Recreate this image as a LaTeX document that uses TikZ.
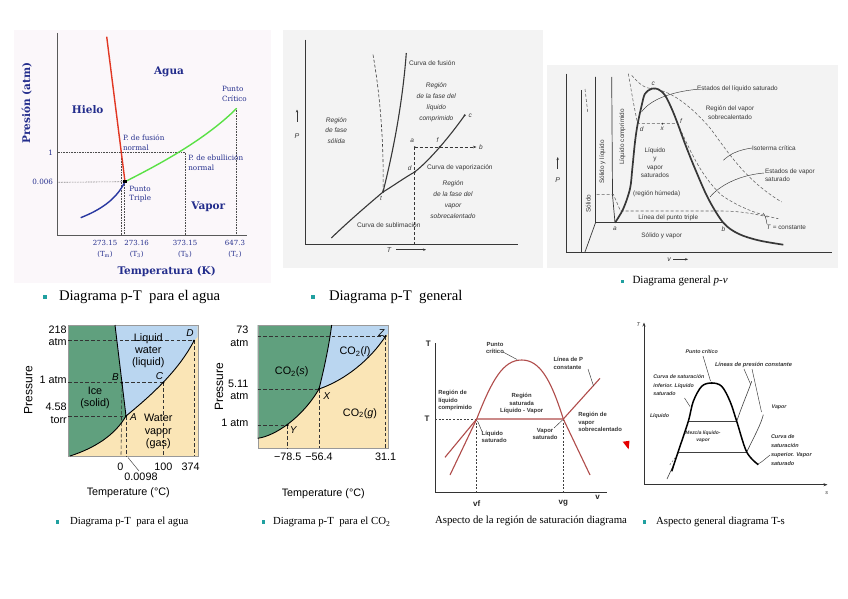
\documentclass[tikz,border=0pt]{standalone}
\usepackage{fontspec}
\setmainfont{Liberation Serif}
\newfontfamily\lsans{Liberation Sans}
\newfontfamily\dvs{DejaVu Serif}
\usetikzlibrary{arrows.meta}
\definecolor{navy}{RGB}{35,45,140}
\definecolor{bgA}{RGB}{251,247,250}
\definecolor{bgB}{RGB}{243,243,243}
\definecolor{fusred}{RGB}{225,55,35}
\definecolor{vapgreen}{RGB}{90,225,70}
\definecolor{subblue}{RGB}{40,55,160}
\definecolor{icegreen}{RGB}{96,160,126}
\definecolor{liqblue}{RGB}{186,214,240}
\definecolor{gastan}{RGB}{250,229,182}
\definecolor{domered}{RGB}{176,76,74}
\definecolor{tealb}{RGB}{32,160,160}
\definecolor{ink}{RGB}{55,55,55}
\tikzset{
  every node/.style={inner sep=0pt, outer sep=0pt},
  axA/.style={draw=gray!70!black, line width=0.9},
  dotA/.style={densely dotted, line width=0.6, black!70},
  nv/.style={font=\dvs\fontsize{7.2}{9.8}\selectfont, text=navy, align=left},
  nvc/.style={font=\dvs\fontsize{7}{11}\selectfont, text=navy, align=center},
  nvb/.style={font=\dvs\bfseries\fontsize{10.5}{12}\selectfont, text=navy},
  axB/.style={draw=ink, line width=0.7},
  crvB/.style={draw=ink, line width=1.1},
  dshB/.style={draw=ink, dashed, line width=0.6, dash pattern=on 3pt off 2pt},
  lbB/.style={font=\lsans\fontsize{6.6}{10.6}\selectfont, text=ink, align=center},
  lbBi/.style={font=\lsans\itshape\fontsize{6.6}{10.8}\selectfont, text=ink, align=center},
  lbC/.style={font=\lsans\fontsize{6.4}{8.3}\selectfont, text=ink, align=center},
  ltr/.style={font=\lsans\itshape\fontsize{6.5}{7}\selectfont, text=ink},
  dotpt/.style={circle, fill=ink, minimum size=2.4pt},
  lead/.style={draw=ink, line width=0.45},
  dshC/.style={draw=ink!80, dashed, line width=0.55, dash pattern=on 3pt off 2pt},
  pl/.style={font=\lsans\fontsize{10.8}{12.2}\selectfont, text=black, align=center},
  plr/.style={font=\lsans\fontsize{10.8}{12.2}\selectfont, text=black, align=right, anchor=east},
  pdsh/.style={draw=black!80, dashed, line width=0.6, dash pattern=on 3.5pt off 2.2pt},
  pcrv/.style={draw=black, line width=0.9},
  pdot/.style={circle, fill=black, minimum size=2.4pt},
  plet/.style={font=\lsans\itshape\fontsize{10}{11}\selectfont, text=black},
  sat/.style={font=\lsans\bfseries\fontsize{5.9}{7.4}\selectfont, text=ink, align=left},
  domeS/.style={draw=domered, line width=1.1},
  ts/.style={font=\lsans\bfseries\itshape\fontsize{5.3}{8.3}\selectfont, text=ink, align=left},
  capT/.style={font=\fontsize{14.7}{16}\selectfont, anchor=west},
  capS/.style={font=\fontsize{10.8}{12}\selectfont, anchor=west},
  bul/.style={fill=tealb, minimum size=4.5pt},
  buls/.style={fill=tealb, minimum size=3.6pt}
}
\begin{document}
\begin{tikzpicture}[x=1pt,y=-1pt]
\useasboundingbox (0,0) rectangle (848,599);
\fill[white] (0,0) rectangle (848,599);

%% ===== Panel 1: water p-T (colour lines)
\fill[bgA] (14,30) rectangle (271,283);
\coordinate (p1o) at (57.7,235.7);
\coordinate (p1yt) at (57.7,33);
\coordinate (p1xr) at (246.7,235.7);
\coordinate (tp1) at (125,181.7);
\coordinate (cp1) at (236.7,108.3);
\coordinate (ft1) at (106.7,36.7);
\coordinate (sb1) at (80.7,217.7);
\coordinate (nf1) at (121.3,152.7);
\coordinate (nb1) at (185,152.7);
\coordinate (h1a) at (57.7,152.7);
\coordinate (h1b) at (57.7,182.3);
\coordinate (v1a) at (121.3,235.7);
\coordinate (v1b0) at (124.4,182);
\coordinate (v1b) at (124.4,235.7);
\coordinate (v1c) at (185,235.7);
\coordinate (v1d) at (236.7,235.7);
\draw[dotA] (h1a) -- (nb1);
\draw[dotA] (h1b) -- (tp1);
\draw[dotA] (nf1) -- (v1a);
\draw[dotA] (v1b0) -- (v1b);
\draw[dotA] (nb1) -- (v1c);
\draw[dotA] (cp1) -- (v1d);
\draw[axA] (p1yt) -- (p1o) -- (p1xr);
\draw[fusred, line width=1.4] (ft1) -- (tp1);
\draw[vapgreen, line width=1.4] (tp1) .. controls (158,165) and (205,140) .. (cp1);
\draw[subblue, line width=1.4] (sb1) .. controls (100,210) and (116,200) .. (tp1);
\node[fill=black, minimum size=3.2pt] (tpd1) at (tp1) {};
\node[nvb] (agua) at (169,71.7) {Agua};
\node[nvb] (hielo) at (87.7,109.3) {Hielo};
\node[nvb] (vapor1) at (208.3,206.7) {Vapor};
\node[nv, anchor=west] (pc1) at (222,93.7) {Punto\\Crítico};
\node[nv, anchor=west] (pf1) at (123,142.7) {P. de fusión\\normal};
\node[nv, anchor=west] (pe1) at (188.3,162.7) {P. de ebullición\\normal};
\node[nv, anchor=west] (pt1) at (129.3,194.2) {Punto\\Triple};
\node[nv, anchor=east] (one1) at (53,152.7) {1};
\node[nv, anchor=east] (z006) at (53,182.3) {0.006};
\node[nvc] (tk1) at (105,248.8) {273.15\\(T\textsubscript{m})};
\node[nvc] (tk2) at (136.7,248.8) {273.16\\(T\textsubscript{3})};
\node[nvc] (tk3) at (185,248.8) {373.15\\(T\textsubscript{b})};
\node[nvc] (tk4) at (235,248.8) {647.3\\(T\textsubscript{c})};
\node[nvb] (tempK) at (166.7,271.7) {Temperatura (K)};
\node[nvb, rotate=90] (presA) at (26.7,103.3) {Presión (atm)};

%% ===== Panel 2: general p-T
\fill[bgB] (283,30) rectangle (542.7,268.3);
\coordinate (p2o) at (305.7,244);
\coordinate (p2yt) at (305.7,39.7);
\coordinate (p2xr) at (518,244);
\draw[axB] (p2yt) -- (p2o) -- (p2xr);
\coordinate (t2) at (383,192);
\coordinate (d2) at (414.7,172);
\coordinate (c2) at (464.7,115.3);
\coordinate (f2) at (439.9,147);
\coordinate (a2) at (414.7,147);
\coordinate (b2) at (476.5,147);
\coordinate (s2) at (331.3,238);
\coordinate (fu2) at (406.3,53);
\coordinate (ds2) at (373,54.7);
\coordinate (ax2) at (414.7,244);
\draw[dshB] (ds2) .. controls (381,100) and (384,150) .. (t2);
\draw[crvB] (t2) .. controls (391,160) and (402,110) .. (fu2);
\draw[crvB] (s2) .. controls (350,220) and (370,203) .. (t2) .. controls (393,186) and (404,178) .. (d2) .. controls (430,160) and (450,136) .. (c2);
\draw[dshB] (a2) -- (ax2);
\draw[dshB, -{Stealth[length=3.5pt,width=2.6pt]}] (a2) -- (b2);
\node[dotpt] (t2d) at (t2) {};
\node[dotpt] (d2d) at (d2) {};
\node[dotpt] (c2d) at (c2) {};
\node[dotpt] (f2d) at (f2) {};
\node[dotpt, minimum size=1.8pt] (a2d) at (a2) {};
\node[ltr] (la2) at (412.3,140.7) {a};
\node[ltr] (lf2) at (437.5,139.7) {f};
\node[ltr, anchor=west] (lb2) at (479,147) {b};
\node[ltr] (lc2) at (470.3,116) {c};
\node[ltr] (ld2) at (409.7,168) {d};
\node[ltr] (lt2) at (381,198.7) {t};
\node[lbB, anchor=west] (cf2) at (409,63) {Curva de fusión};
\node[lbBi] (rl2) at (436.3,102.2) {Región\\de la fase del\\líquido\\comprimido};
\node[lbBi] (rs2) at (336.3,130.5) {Región\\de fase\\sólida};
\node[lbB, anchor=west] (cv2) at (427,168) {Curva de vaporización};
\node[lbBi] (rv2) at (453,199.7) {Región\\de la fase del\\vapor\\sobrecalentado};
\node[lbB, anchor=west] (cs2) at (357,225.3) {Curva de sublimación};
\node[font=\lsans\itshape\fontsize{7}{8}\selectfont, text=ink] (P2) at (297,136.3) {P};
\coordinate (P2a) at (297,122);
\coordinate (P2b) at (297,109.5);
\draw[axB, -{Stealth[length=3pt,width=2.4pt]}] (P2a) -- (P2b);
\node[font=\lsans\itshape\fontsize{7}{8}\selectfont, text=ink] (T2) at (389,249.7) {T};
\coordinate (T2a) at (396,249.7);
\coordinate (T2b) at (426,249.7);
\draw[axB, -{Stealth[length=3pt,width=2.4pt]}] (T2a) -- (T2b);

%% ===== Panel 3: general p-v
\fill[bgB] (546.7,65) rectangle (838,267.5);
\coordinate (p3o) at (566.7,252);
\coordinate (p3yt) at (566.7,73.7);
\coordinate (p3xr) at (831.7,252);
\draw[axB] (p3yt) -- (p3o) -- (p3xr);
\coordinate (l3a) at (581.7,90.3);
\coordinate (l3b) at (581.7,252);
\coordinate (l3c) at (585,252);
\coordinate (l3d) at (595.5,222.7);
\coordinate (l3e) at (595.5,77);
\coordinate (l3f) at (611.7,77);
\coordinate (a3) at (615,222.7);
\coordinate (b3) at (723.3,222.7);
\coordinate (c3) at (651.7,88.7);
\coordinate (d3) at (637.7,123.7);
\coordinate (f3) at (677.7,123.7);
\coordinate (x3) at (662.3,123.7);
\draw[axB] (l3a) -- (l3b);
\draw[axB] (l3c) -- (l3d) -- (l3e);
\draw[axB] (l3f) -- (612.5,195) -- (a3);
\draw[axB] (l3d) -- (b3);
\draw[dshC] (585,89) -- (587.7,112);
\draw[dshC] (596.7,194.3) -- (613.3,194.3) -- (620.5,211) -- (721,211) .. controls (740,211) and (755,214) .. (768,217);
\draw[dshC] (628.3,73.7) .. controls (632,95) and (635,112) .. (d3) -- (f3) .. controls (690,150) and (700,175) .. (721.7,195.3) .. controls (740,208) and (760,215) .. (778.3,218.7);
\draw[dshC] (631.7,75.3) .. controls (638,83) and (645,88.7) .. (c3) .. controls (670,90) and (690,105) .. (710,128) .. controls (728,152) and (745,180) .. (781.7,202);
\draw[line width=1.7, ink] plot[smooth, tension=0.55] coordinates {(615,222.7) (623.3,208.7) (630,188.7) (632.3,168.7) (635,142) (637.7,123.7) (641.7,105.3) (645,93.7) (651.7,88.7) (658.3,89.3) (665,95.3) (671.7,108.7) (677.7,123.7) (685,143.7) (695,168.7) (708.3,198.7) (723.3,222.7) (738.3,233.7) (758.3,240.3) (783.3,244.7)};
\node[dotpt, minimum size=2pt] (x3d) at (x3) {};
\node[dotpt, minimum size=2pt] (c3d) at (c3) {};
\node[ltr] (lc3) at (653.3,83.3) {c};
\node[ltr] (ld3) at (641.7,129) {d};
\node[ltr] (lx3) at (662.3,129) {x};
\node[ltr] (lf3) at (681,121.5) {f};
\node[ltr] (la3) at (615,228.7) {a};
\node[ltr] (lb3) at (723.3,228.7) {b};
\node[lbC, anchor=west] (els3) at (697,89.3) {Estados del líquido saturado};
\draw[lead] (els3.west) .. controls (670,92) and (650,100) .. (641.5,112);
\node[lbC] (rvs3) at (730,112.8) {Región del vapor\\sobrecalentado};
\node[lbC, anchor=west] (ic3) at (752,148) {Isoterma crítica};
\draw[lead] (ic3.west) .. controls (738,150) and (730,154) .. (723.3,160.3);
\node[lbC, anchor=west, align=left] (evs3) at (765,175.3) {Estados de vapor\\saturado};
\draw[lead] (764,173) .. controls (740,175) and (720,185) .. (710,197);
\node[lbC, anchor=west] (tc3) at (766.7,227.7) {\textit{T} = constante};
\draw[lead] (767,224) .. controls (766,218) and (765,215) .. (763,213);
\node[lbC] (lvs3) at (655,162.8) {Líquido\\y\\vapor\\saturados};
\node[lbC] (rh3) at (656.7,194.3) {(región húmeda)};
\node[lbC] (lpt3) at (668.3,218) {Línea del punto triple};
\node[lbC] (syv3) at (661.7,236) {Sólido y vapor};
\node[lbC, rotate=90] (sol3) at (588.3,203.7) {Sólido};
\node[lbC, rotate=90] (syl3) at (602.3,162) {Sólido y líquido};
\node[lbC, rotate=90] (lqc3) at (622.3,137) {Líquido comprimido};
\node[font=\lsans\itshape\fontsize{7}{8}\selectfont, text=ink] (P3) at (557.7,180.3) {P};
\coordinate (P3a) at (557.7,169);
\coordinate (P3b) at (557.7,157);
\draw[axB, -{Stealth[length=3pt,width=2.4pt]}] (P3a) -- (P3b);
\node[font=\lsans\itshape\fontsize{7}{8}\selectfont, text=ink] (v3) at (669,259.3) {v};
\coordinate (v3a) at (673,259.3);
\coordinate (v3b) at (688,259.3);
\draw[axB, -{Stealth[length=3pt,width=2.4pt]}] (v3a) -- (v3b);

%% ===== Top captions
\node[bul] (bu1) at (45,297) {};
\node[capT] (cap1) at (59,297) {Diagrama p-T\ \ para el agua};
\node[bul] (bu2) at (313,297) {};
\node[capT] (cap2) at (329,297) {Diagrama p-T\ \ general};
\node[buls] (bu3) at (622.3,281.3) {};
\node[font=\fontsize{11}{12}\selectfont, anchor=west] (cap3) at (632.5,281.3) {Diagrama general \textit{p-v}};

%% ===== Panel 4: water coloured
\coordinate (A4) at (126,416);
\coordinate (B4) at (122,382.7);
\coordinate (C4) at (163.3,382.7);
\coordinate (D4) at (194,340.7);
\coordinate (F4) at (115,325);
\coordinate (S4) at (70,456);
\fill[gastan] (68.3,325) rectangle (197.7,456);
\fill[icegreen] (68.3,325) -- (F4) -- (A4) .. controls (115,435) and (95,448) .. (S4) -- (68.3,456) -- cycle;
\fill[liqblue] (F4) -- (197.7,325) -- (197.7,337) -- (D4) .. controls (178,372) and (148,398) .. (A4) -- cycle;
\draw[black!40, line width=0.4] (68.3,325) rectangle (197.7,456);
\draw[pdsh] (68.3,340.7) -- (D4);
\draw[pdsh] (68.3,382.7) -- (C4);
\draw[pdsh] (68.3,416) -- (A4);
\draw[pdsh] (B4) -- (121,456);
\draw[pdsh] (A4) -- (126,456);
\draw[pdsh] (C4) -- (163.3,456);
\draw[pdsh] (D4) -- (194,456);
\draw[pcrv] (F4) -- (A4);
\draw[pcrv] (S4) .. controls (95,448) and (115,435) .. (A4) .. controls (148,398) and (178,372) .. (D4);
\node[pdot] (A4d) at (A4) {};
\node[pdot] (B4d) at (B4) {};
\node[pdot] (C4d) at (C4) {};
\node[pdot] (D4d) at (D4) {};
\node[plet] (lA4) at (133.5,417.5) {A};
\node[plet] (lB4) at (115.5,377.3) {B};
\node[plet] (lC4) at (159.5,376) {C};
\node[plet] (lD4) at (190,333.3) {D};
\node[plr] (y218) at (66.7,335.5) {218\\atm};
\node[plr] (y1atm) at (66.7,380) {1 atm};
\node[plr] (y458) at (66.7,413.2) {4.58\\torr};
\node[pl, font=\lsans\fontsize{12}{13}\selectfont, rotate=90] (pres4) at (28.3,390) {Pressure};
\node[pl] (x0) at (120.3,466.7) {0};
\node[pl] (x100) at (163.3,466.7) {100};
\node[pl] (x374) at (190.7,466.7) {374};
\node[pl] (x0098) at (141,477) {0.0098};
\coordinate (ld4a) at (128,457.5);
\coordinate (ld4b) at (139,471);
\draw[black!70, line width=0.5] (ld4a) -- (ld4b);
\node[pl] (temp4) at (128.3,492.7) {Temperature (°C)};
\node[pl] (liq4) at (148.3,350.5) {Liquid\\water\\(liquid)};
\node[pl] (ice4) at (95,397.5) {Ice\\(solid)};
\node[pl] (vap4) at (158.3,431.5) {Water\\vapor\\(gas)};

%% ===== Panel 5: CO2
\coordinate (X5) at (319,389);
\coordinate (Y5) at (287.7,425);
\coordinate (Z5) at (385.7,336);
\coordinate (F5) at (331.7,325);
\coordinate (S5) at (257.7,438.3);
\fill[gastan] (257.7,325) rectangle (388.3,448.3);
\fill[icegreen] (257.7,325) -- (F5) .. controls (329,345) and (325,365) .. (X5) .. controls (302,418) and (275,436) .. (S5) -- cycle;
\fill[liqblue] (F5) -- (388.3,325) -- (388.3,333) -- (Z5) .. controls (370,360) and (345,380) .. (X5) .. controls (325,365) and (329,345) .. (F5) -- cycle;
\draw[black!40, line width=0.4] (257.7,325) rectangle (388.3,448.3);
\draw[pdsh] (257.7,336) -- (Z5);
\draw[pdsh] (257.7,389) -- (X5);
\draw[pdsh] (257.7,425) -- (Y5);
\draw[pdsh] (Y5) -- (287.7,448.3);
\draw[pdsh] (X5) -- (319,448.3);
\draw[pdsh] (Z5) -- (385.7,448.3);
\draw[pcrv] (S5) .. controls (275,436) and (302,418) .. (X5) .. controls (345,380) and (370,360) .. (Z5);
\draw[pcrv] (X5) .. controls (325,365) and (329,345) .. (F5);
\node[pdot] (X5d) at (X5) {};
\node[pdot] (Y5d) at (Y5) {};
\node[pdot] (Z5d) at (Z5) {};
\node[plet] (lX5) at (326.7,396) {X};
\node[plet] (lY5) at (293.3,430) {Y};
\node[plet] (lZ5) at (381.5,332.7) {Z};
\node[plr] (y73) at (248.3,336.3) {73\\atm};
\node[plr] (y511) at (248.3,390) {5.11\\atm};
\node[plr] (y1atm5) at (248.3,422.7) {1 atm};
\node[pl, font=\lsans\fontsize{12}{13}\selectfont, rotate=90] (pres5) at (219,386.7) {Pressure};
\node[pl] (x785) at (287.7,456.7) {−78.5};
\node[pl] (x564) at (319,456.7) {−56.4};
\node[pl] (x311) at (385.7,456.7) {31.1};
\node[pl] (temp5) at (323.3,493.3) {Temperature (°C)};
\node[pl] (co2s) at (291.7,371.7) {CO\textsubscript{2}(\textit{s})};
\node[pl] (co2l) at (355,351.7) {CO\textsubscript{2}(\textit{l})};
\node[pl] (co2g) at (360,413.3) {CO\textsubscript{2}(\textit{g})};

%% ===== Panel 6: saturation region T-v
\coordinate (o6) at (435,492.7);
\coordinate (yt6) at (435,343.3);
\coordinate (xr6) at (607,492.7);
\coordinate (vf6) at (476.7,419);
\coordinate (vg6) at (563.3,419);
\coordinate (pk6) at (521.7,360);
\coordinate (dl6) at (450,475);
\coordinate (dr6) at (590,475);
\coordinate (pl6) at (445,457.3);
\coordinate (pr6) at (600,378.3);
\coordinate (ty6) at (435,419);
\draw[black!80, line width=1] (yt6) -- (o6) -- (xr6);
\draw[black!75, dashed, line width=0.5, dash pattern=on 2pt off 1.6pt] (ty6) -- (vf6);
\draw[black!75, dashed, line width=0.5, dash pattern=on 2pt off 1.6pt] (vf6) -- (476.7,492.7);
\draw[black!75, dashed, line width=0.5, dash pattern=on 2pt off 1.6pt] (vg6) -- (563.3,492.7);
\draw[domeS] (dl6) -- (vf6) .. controls (492,380) and (503,360) .. (pk6) .. controls (540,360) and (551,380) .. (vg6) -- (dr6);
\draw[domeS] (pl6) -- (vf6) -- (vg6) -- (pr6);
\node[font=\lsans\bfseries\fontsize{8}{9}\selectfont, text=black!85] (T6a) at (428.3,344) {T};
\node[font=\lsans\bfseries\fontsize{8}{9}\selectfont, text=black!85] (T6b) at (427,419) {T};
\node[font=\lsans\bfseries\fontsize{8}{9}\selectfont, text=black!85] (v6) at (597.7,497) {v};
\node[font=\lsans\bfseries\fontsize{8}{9}\selectfont, text=black!85] (vf6l) at (476.7,503.3) {vf};
\node[font=\lsans\bfseries\fontsize{8}{9}\selectfont, text=black!85] (vg6l) at (563.3,503.3) {vg};
\node[sat, align=center] (pc6) at (495,348) {Punto\\crítico};
\draw[lead] (503,352) -- (517,359.5);
\node[sat, align=left] (lpc6) at (568.3,363.3) {Línea de P\\constante};
\draw[lead] (588,369) -- (593.5,386);
\node[sat, anchor=west] (rlc6) at (438.3,400.7) {Región de\\líquido\\comprimido};
\node[sat, align=center] (rsat6) at (521.7,403.7) {Región\\saturada\\Líquido - Vapor};
\node[sat, anchor=west] (rvs6) at (578.3,422) {Región de\\vapor\\sobrecalentado};
\node[sat, anchor=west] (ls6) at (481.7,437) {Líquido\\saturado};
\draw[lead] (482,431.5) -- (477.5,421);
\node[sat, align=center] (vs6) at (545,433.7) {Vapor\\saturado};
\draw[lead] (554,428) -- (562.5,420);
\fill[red!90!black] (622.7,441.7) -- (629.5,440.8) -- (628.6,449.3) -- cycle;

%% ===== Panel 7: T-s
\coordinate (o7) at (644,484.7);
\coordinate (yt7) at (644,322.5);
\coordinate (xr7) at (827.5,484.7);
\draw[black!80, line width=0.9, -{Stealth[length=4pt,width=3pt]}] (o7) -- (yt7);
\draw[black!80, line width=0.9, -{Stealth[length=4pt,width=3pt]}] (o7) -- (xr7);
\node[font=\lsans\itshape\fontsize{5.5}{6}\selectfont, text=ink] (T7) at (638.3,324.7) {T};
\node[font=\lsans\itshape\fontsize{5.5}{6}\selectfont, text=ink] (s7) at (826.7,493) {s};
\coordinate (pk7) at (711.7,383);
\coordinate (u7l) at (688.3,421.3);
\coordinate (u7r) at (736.7,421.3);
\coordinate (w7l) at (679.3,452);
\coordinate (w7r) at (746.7,452);
\draw[black!75, line width=0.6] (u7l) -- (u7r);
\draw[black!75, line width=0.6] (w7l) -- (w7r);
\draw[black!75, line width=0.6] (u7r) .. controls (743,403) and (748,392) .. (751.7,381.3);
\draw[black!75, line width=0.6] (w7r) .. controls (755,435) and (761,424) .. (763.3,414.7);
\draw[black!60, dashed, line width=0.5, dash pattern=on 2pt off 1.5pt] (w7l) -- (669,466);
\draw[black!75, line width=0.6] (674,464) -- (667,479);
\draw[black, line width=1.5] plot[smooth, tension=0.55] coordinates {(671.7,471.3) (678.3,451.3) (688.3,421.3) (693.3,401.3) (701.7,386.3) (711.7,383) (721.7,386.3) (730,401.3) (736.7,421.3) (746.7,452) (758.3,464.7)};
\node[fill=black, minimum size=2.2pt, circle] (pk7d) at (pk7) {};
\node[ts, align=center] (pc7) at (701.7,351.3) {Punto crítico};
\draw[lead] (703,356) -- (710.5,381);
\node[ts, anchor=west, font=\lsans\bfseries\itshape\fontsize{5.7}{8.3}\selectfont] (lpc7) at (715,364.7) {Líneas de presión constante};
\draw[lead] (744,369) -- (750.5,384);
\draw[lead] (752,369) -- (761.5,412);
\node[ts, anchor=west] (csi7) at (653.3,385.2) {Curva de saturación\\inferior. Líquido\\saturado};
\draw[lead] (684.5,398) -- (690,406.5);
\node[ts, anchor=west] (liq7) at (650,416.3) {Líquido};
\node[ts, align=center, font=\lsans\bfseries\itshape\fontsize{4.9}{7}\selectfont] (mez7) at (703,436.4) {Mezcla líquido-\\vapor};
\node[ts, anchor=west] (vap7) at (771.7,407.3) {Vapor};
\node[ts, anchor=west, font=\lsans\bfseries\itshape\fontsize{5.5}{8.9}\selectfont] (css7) at (771,449.7) {Curva de\\saturación\\superior. Vapor\\saturado};
\draw[lead] (770,455) .. controls (765,459) and (762,462) .. (758,464);

%% ===== Bottom captions
\node[buls] (bu4) at (57.5,522) {};
\node[capS] (cap4) at (70,522) {Diagrama p-T\ \ para el agua};
\node[buls] (bu5) at (263.5,522) {};
\node[capS] (cap5) at (273,522) {Diagrama p-T\ \ para el CO\textsubscript{2}};
\node[capS] (cap6) at (435,521) {Aspecto de la región de saturación diagrama};
\node[buls] (bu7) at (644.5,522) {};
\node[capS] (cap7) at (656,522) {Aspecto general diagrama T-s};
\end{tikzpicture}
\end{document}
